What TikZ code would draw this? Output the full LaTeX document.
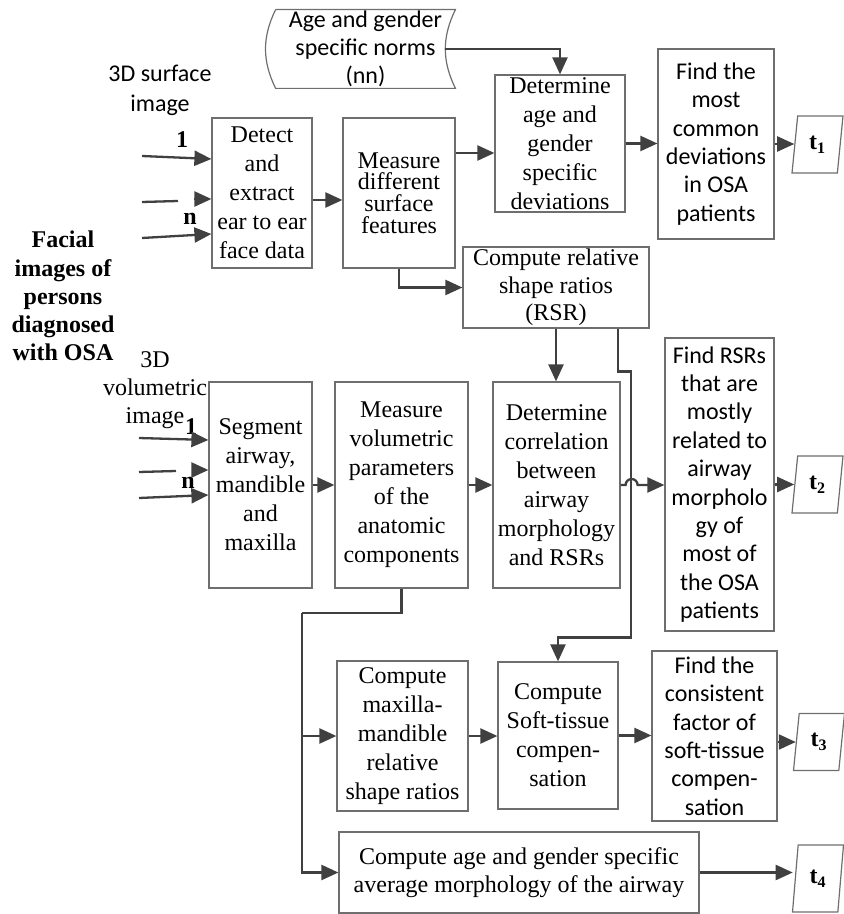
\documentclass[tikz,border=0pt]{standalone}
\usepackage{fontspec}
\setmainfont{Liberation Serif}
\newfontfamily\calibri{Carlito}
\usetikzlibrary{arrows.meta,shapes.geometric}
\definecolor{linea}{HTML}{404040}
\definecolor{bordo}{HTML}{6E6E6E}
\tikzset{
  blocco/.style={draw=bordo, line width=0.6pt, align=center, inner sep=1pt, font=\fontsize{12}{14.5}\selectfont},
  bloccos/.style={blocco, font=\calibri\fontsize{12}{14.2}\selectfont},
  uscita/.style={trapezium, trapezium left angle=75, trapezium right angle=105, trapezium stretches body=true,
    draw=bordo, line width=0.6pt, inner sep=1pt, minimum width=25.5pt, minimum height=28.5pt, font=\bfseries\fontsize{12}{14}\selectfont},
  freccia/.style={draw=linea, line width=1.15pt, -{Triangle[length=8.5pt,width=7.5pt]}},
  filo/.style={draw=linea, line width=1.15pt},
  numero/.style={font=\bfseries\fontsize{12}{14}\selectfont, inner sep=0pt},
  testo/.style={align=center, inner sep=0pt, font=\fontsize{12}{14}\selectfont}
}
\begin{document}
\begin{tikzpicture}[x=0.5pt, y=0.5pt]
    \useasboundingbox (0,0) rectangle (843,-914); % margini del disegno

    % etichette a sinistra
    \node[testo, font=\calibri\fontsize{12}{15}\selectfont] (surflab) at (160,-90) {3D surface\\image};
    \node[testo, font=\bfseries\fontsize{12}{14.1}\selectfont] (facial) at (63,-296) {Facial\\images of\\persons\\diagnosed\\with OSA};
    \node[testo] (vollab) at (155,-390) {3D\\volumetric\\image};
    \node[numero] (uno1) at (182,-140) {1};
    \node[numero] (enne1) at (190,-219) {n};
    \node[numero] (uno2) at (191,-427) {1};
    \node[numero] (enne2) at (188,-483) {n};

    % norme (dati memorizzati)
    \node[align=center, inner sep=0pt, minimum width=89.5pt, minimum height=39pt, font=\calibri\fontsize{12}{14}\selectfont] (norms) at (365.5,-49) {Age and gender\\specific norms\\(nn)};
    \draw[bordo, line width=0.6pt] (norms.north west) -- (norms.north east) to[bend right=26] (norms.south east)
        -- (norms.south west) to[bend left=26] (norms.north west); % contorno curvo

    % prima riga: immagine di superficie
    \node[blocco, minimum width=50pt, minimum height=75pt] (detect) at (262,-193) {Detect\\and\\extract\\ear to ear\\face data};
    \node[blocco, minimum width=56pt, minimum height=75pt, font=\fontsize{12}{10.8}\selectfont] (surf) at (399,-193) {Measure\\different\\surface\\features};
    \node[blocco, minimum width=65pt, minimum height=68.5pt] (det) at (560,-143.5) {Determine\\age and\\gender\\specific\\deviations};
    \node[bloccos, minimum width=58pt, minimum height=95pt] (common) at (716,-144) {Find the\\most\\common\\deviations\\in OSA\\patients};
    \node[uscita] (t1) at (817.5,-144.5) {t\textsubscript{1}};
    \node[blocco, minimum width=93pt, minimum height=40.5pt, font=\fontsize{12}{13.8}\selectfont] (rsr) at (556,-287.5) {Compute relative\\shape ratios\\(RSR)};

    % seconda riga: immagine volumetrica
    \node[blocco, minimum width=51.5pt, minimum height=103pt] (seg) at (260.5,-485) {Segment\\airway,\\mandible\\and\\maxilla};
    \node[blocco, minimum width=66.5pt, minimum height=103pt] (vol) at (401.5,-485) {Measure\\volumetric\\parameters\\of the\\anatomic\\components};
    \node[blocco, minimum width=63.5pt, minimum height=103pt] (corr) at (556.5,-485) {Determine\\correlation\\between\\airway\\morphology\\and RSRs};
    \node[bloccos, minimum width=54.5pt, minimum height=146.5pt] (rsrs) at (719.5,-484.5) {Find RSRs\\that are\\mostly\\related to\\airway\\morpholo\\gy of\\most of\\the OSA\\patients};
    \node[uscita] (t2) at (817.5,-484.5) {t\textsubscript{2}};

    % terza riga
    \node[blocco, minimum width=65.5pt, minimum height=75pt] (mm) at (402.5,-736) {Compute\\maxilla-\\mandible\\relative\\shape ratios};
    \node[blocco, minimum width=60pt, minimum height=73.5pt] (soft) at (558,-735.5) {Compute\\Soft-tissue\\compen-\\sation};
    \node[bloccos, minimum width=62.5pt, minimum height=85pt] (cons) at (714.5,-736) {Find the\\consistent\\factor of\\soft-tissue\\compen-\\sation};
    \node[uscita] (t3) at (819,-742) {t\textsubscript{3}};
    \node[blocco, minimum width=180pt, minimum height=40.5pt, font=\fontsize{12}{14}\selectfont] (avg) at (519,-872.5) {Compute age and gender specific\\average morphology of the airway};
    \node[uscita, minimum height=33.5pt] (t4) at (818,-878.5) {t\textsubscript{4}};

    % ingressi
    \coordinate (a1) at (142,-156);
    \coordinate (a2) at (142,-202);
    \coordinate (a2h) at (194,-199);
    \coordinate (a3) at (142,-238);
    \draw[freccia] (a1) -- ([yshift=-1.5pt]a1 -| detect.west); % ingresso 1
    \draw[filo] (a2) -- ++(36,1); % ingresso interrotto
    \draw[freccia] (a2h) -- (a2h -| detect.west);
    \draw[freccia] (a3) -- ([yshift=2pt]a3 -| detect.west); % ingresso n
    \coordinate (b1) at (139,-438);
    \coordinate (b2) at (139,-472);
    \coordinate (b2h) at (193,-470);
    \coordinate (b3) at (139,-498);
    \draw[freccia] (b1) -- ([yshift=-1pt]b1 -| seg.west); % ingresso 1
    \draw[filo] (b2) -- ++(37,1); % ingresso interrotto
    \draw[freccia] (b2h) -- (b2h -| seg.west);
    \draw[freccia] (b3) -- ([yshift=1.5pt]b3 -| seg.west); % ingresso n

    % collegamenti
    \draw[freccia] ([xshift=-5pt]norms.east) -| (det.north);
    \draw[freccia] ([yshift=-3.5pt]detect.east) -- ([yshift=-3.5pt]detect.east -| surf.west);
    \draw[freccia] ([yshift=20pt]surf.east) -- ([yshift=20pt]surf.east -| det.west);
    \draw[freccia] (det.east) -- (det.east -| common.west);
    \draw[freccia] (common.east) -- (common.east -| t1.west);
    \draw[freccia] (surf.south) |- (rsr.west);
    \draw[freccia] (rsr.south) -- (rsr.south |- corr.north);
    \draw[freccia] ([xshift=31pt]rsr.south) -- ++(0,-43) -- ++(13,0) -- ++(0,-266) -| (soft.north); % linea verso la compensazione
    \draw[freccia] (seg.east) -- (seg.east -| vol.west);
    \draw[freccia] (vol.east) -- (vol.east -| corr.west);
    \draw[freccia] (corr.east) -- ++(5,0) arc (180:0:6) -- (corr.east -| rsrs.west); % salto sopra la linea
    \draw[freccia] (rsrs.east) -- (rsrs.east -| t2.west);
    \coordinate (nodo) at (302,-613);
    \draw[filo] (vol.south) |- (nodo);
    \draw[freccia] (nodo) |- (avg.west);
    \draw[freccia] (nodo |- mm.west) -- (mm.west);
    \draw[freccia] (mm.east) -- (mm.east -| soft.west);
    \draw[freccia] (soft.east) -- (soft.east -| cons.west);
    \draw[freccia] (cons.east |- t3.west) -- (t3.west);
    \draw[freccia] (avg.east) -- ([xshift=-1pt]avg.east -| t4.west);
\end{tikzpicture}
\end{document}
